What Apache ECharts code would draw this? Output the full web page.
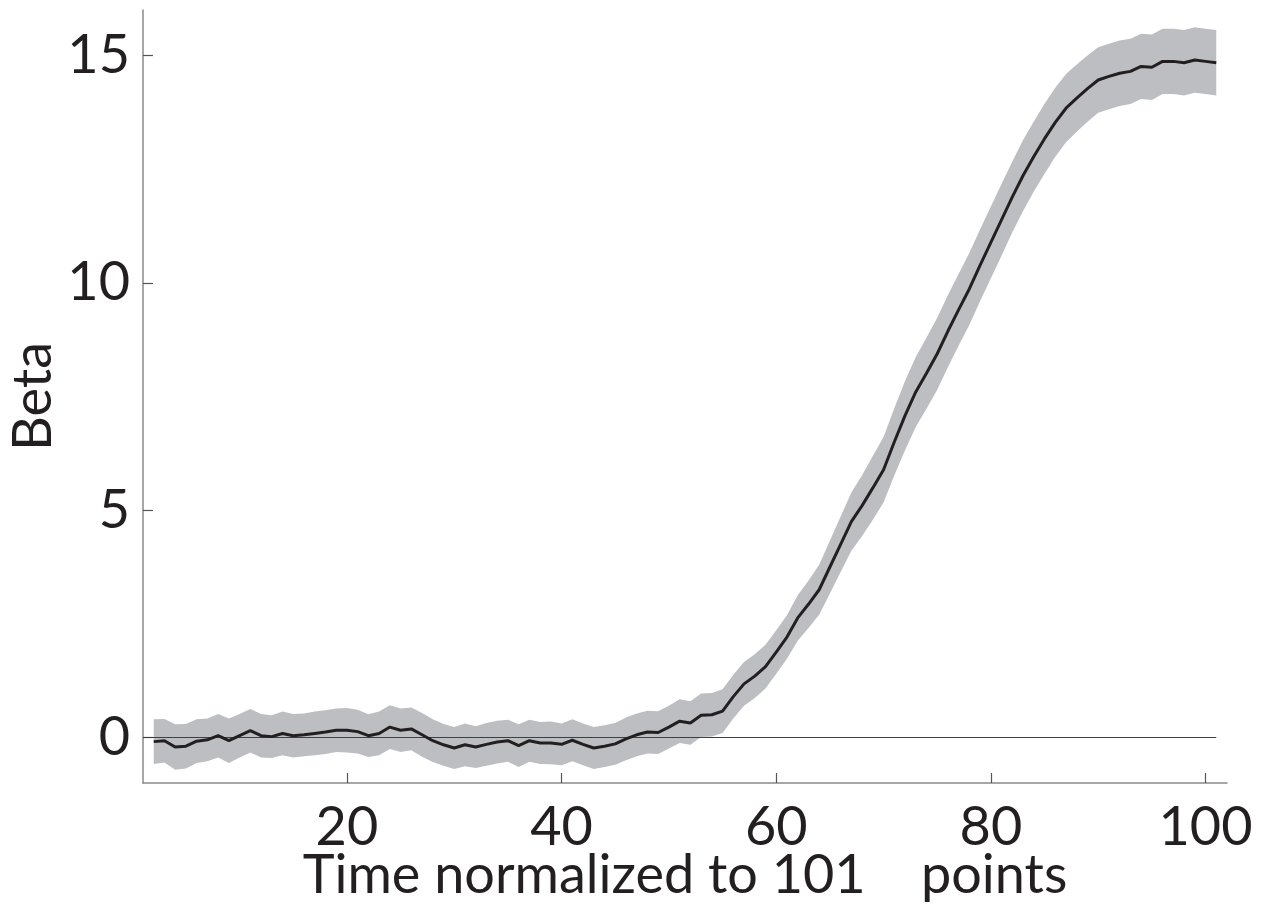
<!DOCTYPE html>
<html>
<head>
<meta charset="utf-8">
<title>Beta over normalized time</title>
<script src="https://cdn.jsdelivr.net/npm/echarts@6/dist/echarts.min.js"></script>
<style>
  html, body { margin: 0; padding: 0; background: #ffffff; }
  #chart { width: 1268px; height: 910px; }
</style>
</head>
<body>
<div id="chart"></div>
<script>
// Normalized time samples (x)
const timePoints = [
  2, 3, 4, 5, 6, 7, 8, 9, 10, 11, 12, 13, 14, 15, 16, 17, 18, 19, 20, 21,
  22, 23, 24, 25, 26, 27, 28, 29, 30, 31, 32, 33, 34, 35, 36, 37, 38, 39, 40, 41,
  42, 43, 44, 45, 46, 47, 48, 49, 50, 51, 52, 53, 54, 55, 56, 57, 58, 59, 60, 61,
  62, 63, 64, 65, 66, 67, 68, 69, 70, 71, 72, 73, 74, 75, 76, 77, 78, 79, 80, 81,
  82, 83, 84, 85, 86, 87, 88, 89, 90, 91, 92, 93, 94, 95, 96, 97, 98, 99, 100, 101
];

// Mean beta at each time sample
const betaMean = [
  -0.09, -0.07, -0.21, -0.19, -0.08, -0.05, 0.04, -0.07, 0.04, 0.15,
  0.04, 0.02, 0.09, 0.04, 0.06, 0.09, 0.12, 0.16, 0.16, 0.13,
  0.04, 0.09, 0.23, 0.16, 0.19, 0.06, -0.07, -0.16, -0.23, -0.16,
  -0.21, -0.15, -0.10, -0.07, -0.18, -0.07, -0.12, -0.12, -0.15, -0.06,
  -0.15, -0.23, -0.19, -0.14, -0.03, 0.06, 0.12, 0.11, 0.23, 0.36,
  0.32, 0.49, 0.50, 0.58, 0.90, 1.18, 1.35, 1.56, 1.88, 2.21,
  2.63, 2.93, 3.25, 3.75, 4.25, 4.75, 5.10, 5.49, 5.89, 6.50,
  7.08, 7.60, 8.01, 8.44, 8.94, 9.41, 9.87, 10.39, 10.89, 11.39,
  11.89, 12.36, 12.78, 13.17, 13.53, 13.84, 14.06, 14.27, 14.46, 14.54,
  14.61, 14.65, 14.76, 14.74, 14.87, 14.87, 14.84, 14.90, 14.87, 14.84
];

// Half-width of the shaded error band at each time sample
const betaError = [
  0.49, 0.48, 0.50, 0.49, 0.48, 0.47, 0.48, 0.49, 0.48, 0.48,
  0.48, 0.47, 0.48, 0.48, 0.47, 0.48, 0.48, 0.48, 0.49, 0.48,
  0.47, 0.48, 0.48, 0.48, 0.47, 0.48, 0.47, 0.46, 0.46, 0.47,
  0.46, 0.47, 0.47, 0.46, 0.47, 0.46, 0.46, 0.47, 0.46, 0.46,
  0.46, 0.46, 0.46, 0.46, 0.47, 0.47, 0.47, 0.47, 0.47, 0.48,
  0.48, 0.48, 0.48, 0.48, 0.48, 0.48, 0.48, 0.48, 0.48, 0.48,
  0.50, 0.52, 0.55, 0.58, 0.61, 0.64, 0.67, 0.70, 0.72, 0.74,
  0.76, 0.77, 0.78, 0.79, 0.79, 0.79, 0.79, 0.79, 0.79, 0.79,
  0.78, 0.78, 0.77, 0.77, 0.76, 0.75, 0.74, 0.73, 0.72, 0.72,
  0.72, 0.72, 0.72, 0.72, 0.72, 0.72, 0.72, 0.72, 0.72, 0.72
];

// Reference line at beta = 0
const zeroLineX = [1, 101];
const zeroLineY = [0, 0];

// Tick values
const xTicks = [20, 40, 60, 80, 100];
const yTicks = [0, 5, 10, 15];

const textColor = '#231f20';
const axisColor = '#8a8a8a';
const fontFamily = 'Lato, "Open Sans", sans-serif';

const meanData = timePoints.map((t, i) => [t, betaMean[i]]);
const bandData = timePoints.map((t, i) => [t, betaMean[i] - betaError[i], betaMean[i] + betaError[i]]);
const zeroData = zeroLineX.map((x, i) => [x, zeroLineY[i]]);

const chart = echarts.init(document.getElementById('chart'), null, { renderer: 'canvas' });

chart.setOption({
  animation: false,
  backgroundColor: '#ffffff',
  grid: { left: 143, right: 41, top: 10, bottom: 127, containLabel: false, outerBoundsMode: 'none' },
  xAxis: {
    type: 'value',
    min: 1,
    max: 102,
    name: 'Time normalized to 101    points',
    nameLocation: 'middle',
    nameGap: 66,
    nameMoveOverlap: false,
    nameTextStyle: { color: textColor, fontSize: 54, fontFamily: fontFamily },
    axisLine: { show: true, onZero: false, lineStyle: { color: axisColor, width: 1.5 } },
    axisTick: { show: true, inside: true, length: 10, customValues: xTicks, lineStyle: { color: '#555555', width: 1.2 } },
    axisLabel: { show: true, customValues: xTicks, margin: 18, color: textColor, fontSize: 54, fontFamily: fontFamily },
    splitLine: { show: false }
  },
  yAxis: {
    type: 'value',
    min: -1,
    max: 16,
    name: 'Beta',
    nameLocation: 'middle',
    nameGap: 82,
    nameMoveOverlap: false,
    nameRotate: 90,
    nameTextStyle: { color: textColor, fontSize: 54, fontFamily: fontFamily },
    axisLine: { show: true, onZero: false, lineStyle: { color: axisColor, width: 1.5 } },
    axisTick: { show: true, inside: true, length: 10, customValues: yTicks, lineStyle: { color: '#555555', width: 1.2 } },
    axisLabel: { show: true, customValues: yTicks, margin: 13, color: textColor, fontSize: 54, fontFamily: fontFamily },
    splitLine: { show: false }
  },
  series: [
    {
      // shaded error band drawn as one polygon through the axis scales
      type: 'custom',
      name: 'band',
      data: bandData,
      encode: { x: 0, y: [1, 2] },
      silent: true,
      z: 1,
      renderItem: function (params, api) {
        if (params.dataIndex !== 0) return null;
        const upper = bandData.map(d => api.coord([d[0], d[2]]));
        const lower = bandData.slice().reverse().map(d => api.coord([d[0], d[1]]));
        return {
          type: 'polygon',
          shape: { points: upper.concat(lower) },
          style: { fill: '#bcbec1', stroke: null }
        };
      }
    },
    {
      type: 'line',
      name: 'zero',
      data: zeroData,
      showSymbol: false,
      silent: true,
      z: 2,
      lineStyle: { color: '#3f3f3f', width: 1.1 }
    },
    {
      type: 'line',
      name: 'mean',
      data: meanData,
      showSymbol: false,
      silent: true,
      z: 3,
      lineStyle: { color: '#231f20', width: 3 }
    }
  ]
});
</script>
</body>
</html>
